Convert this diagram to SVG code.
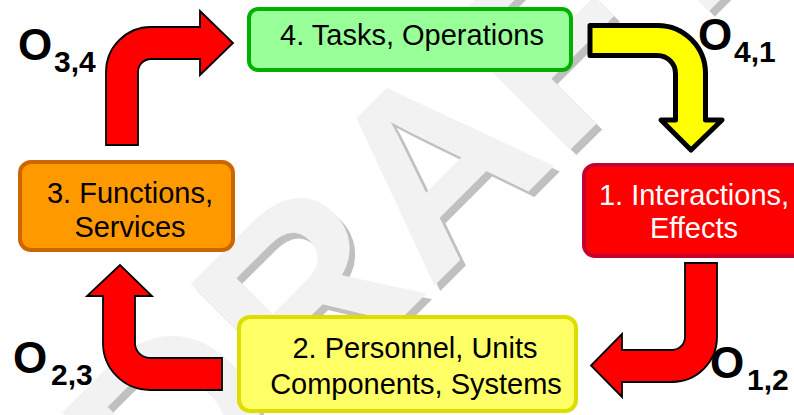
<svg xmlns="http://www.w3.org/2000/svg" width="794" height="415" viewBox="0 0 794 415">
<style>
.wm{font-family:"Liberation Sans",Arial,sans-serif;font-weight:bold;font-size:252px}
.box{stroke-width:4}
.lbl{font-family:"Liberation Sans",Arial,sans-serif;font-size:29px;text-anchor:middle}
.o{font-family:"Liberation Sans",Arial,sans-serif;font-weight:bold;fill:#000}
.big{font-size:44px}
.sub{font-size:30px}
.redarrow{fill:#ff0000;stroke:#000;stroke-width:1.8;stroke-linejoin:miter}
</style>
<rect width="794" height="415" fill="#ffffff"/>
<g id="watermark" transform="translate(172.7,547.3) rotate(-45)">
<text class="wm" x="0" y="8" fill="#c0c0c0">DRAFT</text>
<text class="wm" x="0" y="0" fill="#f2f2f2">DRAFT</text>
</g>
<g id="connectors">
<g id="o34">
<path class="redarrow" d="M106,145 L106,72 A45,45 0 0 1 151,27 L200,27 L200,11 L233,43 L200,75 L200,59 L151,59 A13,13 0 0 0 138,72 L138,145 Z"/>
<text class="o" x="18" y="60"><tspan class="big">O</tspan><tspan class="sub" x="54" y="72">3,4</tspan></text>
</g>
<g id="o41">
<path d="M590,25.5 L657.5,25.5 A48,48 0 0 1 705.5,73.5 L705.5,120 L722,120 L691,150 L661,120 L675.5,120 L675.5,73.5 A18,18 0 0 0 657.5,55.5 L590,55.5 Z" fill="#ffff00" stroke="#000" stroke-width="5" stroke-linejoin="round"/>
<text class="o" x="698" y="50"><tspan class="big">O</tspan><tspan class="sub" x="734" y="62">4,1</tspan></text>
</g>
<g id="o12">
<path class="redarrow" d="M685,263 L717,263 L717,337 A45,45 0 0 1 672,382 L622,382 L622,397 L591,365.5 L622,334 L622,350 L672,350 A13,13 0 0 0 685,337 Z"/>
<text class="o" x="710" y="378"><tspan class="big">O</tspan><tspan class="sub" x="747" y="390">1,2</tspan></text>
</g>
<g id="o23">
<path class="redarrow" d="M222,358 L150,358 A15,15 0 0 1 135,343 L135,296 L152,296 L120,265 L87,296 L103,296 L103,343 A47,47 0 0 0 150,390 L222,390 Z"/>
<text class="o" x="13" y="373"><tspan class="big">O</tspan><tspan class="sub" x="51" y="385">2,3</tspan></text>
</g>
</g>
<g id="node4">
<rect class="box" x="249" y="9" width="322" height="61" rx="9" fill="#99ff99" stroke="#00b000"/>
<text class="lbl" x="412" y="45" fill="#000">4. Tasks, Operations</text>
</g>
<g id="node3">
<rect class="box" x="20" y="162" width="213" height="88" rx="11" fill="#ff9900" stroke="#cc6600"/>
<text class="lbl" x="130" y="203" fill="#000">3. Functions,</text>
<text class="lbl" x="130" y="237" fill="#000">Services</text>
</g>
<g id="node1">
<rect class="box" x="584" y="165" width="222" height="91" rx="11" fill="#ff0000" stroke="#c80030"/>
<text class="lbl" x="694" y="205" fill="#ffffff">1. Interactions,</text>
<text class="lbl" x="694" y="238" fill="#ffffff">Effects</text>
</g>
<g id="node2">
<rect class="box" x="239" y="317" width="337" height="94" rx="11" fill="#ffff66" stroke="#dddd00"/>
<text class="lbl" x="415" y="358" fill="#000">2. Personnel, Units</text>
<text class="lbl" x="416" y="394" fill="#000">Components, Systems</text>
</g>
</svg>
